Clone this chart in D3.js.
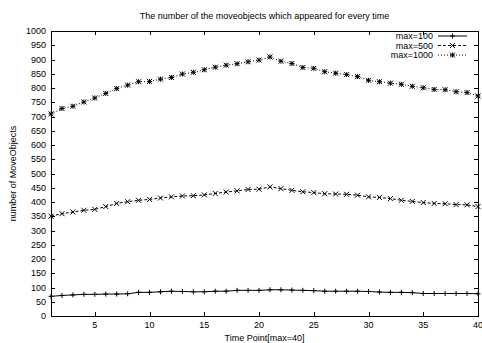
<!DOCTYPE html>
<html>
<head>
<meta charset="utf-8">
<script src="https://cdn.jsdelivr.net/npm/d3@7"></script>
<style>
  body { margin: 0; background: #fff; }
  text { font-family: "Liberation Sans", Arial, sans-serif; font-size: 9px; fill: #000; }
</style>
</head>
<body>
<div class="chart"></div>
<script>
// DATA ------------------------------
const timePoints = d3.range(1, 41);
const max100 = [69, 72, 74, 76, 76, 77, 77, 78, 83, 83, 85, 87, 86, 85, 85, 87, 87, 90, 90, 90,
                92, 92, 91, 90, 89, 87, 87, 87, 87, 86, 84, 83, 83, 82, 79, 79, 79, 79, 79, 78];
const max500 = [350, 359, 365, 371, 374, 384, 395, 401, 406, 409, 414, 418, 421, 422, 425, 430, 435, 439, 444, 445,
                453, 447, 441, 436, 433, 429, 428, 427, 424, 418, 416, 412, 406, 402, 398, 395, 394, 391, 390, 384];
const max1000 = [709, 728, 736, 751, 765, 781, 798, 810, 822, 823, 831, 837, 849, 855, 864, 873, 880, 885, 892, 898,
                 909, 894, 886, 872, 869, 857, 852, 847, 840, 827, 822, 817, 813, 806, 801, 795, 794, 787, 784, 772];
const seriesNames = ["max=100", "max=500", "max=1000"];
const xTicks = [5, 10, 15, 20, 25, 30, 35, 40];
const yTicks = d3.range(0, 1001, 50);

// CHART INIT ------------------------------
const margin = {top: 31, right: 4, bottom: 27, left: 51};
const width = 482 - margin.left - margin.right;
const height = 343 - margin.top - margin.bottom;

const root = d3.select(".chart").append("svg")
  .attr("width", 482)
  .attr("height", 343);

const svg = root.append("g")
  .attr("transform", "translate(" + margin.left + "," + margin.top + ")");

const xScale = d3.scaleLinear().domain([1, 40]).range([0, width]);
const yScale = d3.scaleLinear().domain([0, 1000]).range([height, 0]);

// axes with inward ticks, mirrored on top / right
svg.append("g")
  .attr("transform", `translate(0, ${height})`)
  .call(d3.axisTop(xScale).tickValues(xTicks).tickSize(4).tickFormat(""))
  .call(g => g.select(".domain").remove());
svg.append("g")
  .call(d3.axisBottom(xScale).tickValues(xTicks).tickSize(4).tickFormat(""))
  .call(g => g.select(".domain").remove());
svg.append("g")
  .call(d3.axisRight(yScale).tickValues(yTicks).tickSize(4).tickFormat(""))
  .call(g => g.select(".domain").remove());
svg.append("g")
  .attr("transform", `translate(${width}, 0)`)
  .call(d3.axisLeft(yScale).tickValues(yTicks).tickSize(4).tickFormat(""))
  .call(g => g.select(".domain").remove());

svg.selectAll(".tick line")
  .attr("stroke", "#000")
  .attr("shape-rendering", "crispEdges");

// tick labels
svg.selectAll(".xlab")
  .data(xTicks)
  .enter().append("text")
  .attr("x", d => xScale(d))
  .attr("y", height + 12)
  .attr("text-anchor", "middle")
  .text(d => d);

svg.selectAll(".ylab")
  .data(yTicks)
  .enter().append("text")
  .attr("x", -5)
  .attr("y", d => yScale(d) + 3)
  .attr("text-anchor", "end")
  .text(d => d);

// frame
svg.append("rect")
  .attr("width", width)
  .attr("height", height)
  .attr("fill", "none")
  .attr("stroke", "#000")
  .attr("stroke-width", 1)
  .attr("shape-rendering", "crispEdges");

// titles
root.append("text")
  .attr("x", margin.left + width / 2)
  .attr("y", 19)
  .attr("text-anchor", "middle")
  .text("The number of the moveobjects which appeared for every time");

root.append("text")
  .attr("x", margin.left + width / 2)
  .attr("y", 340.5)
  .attr("text-anchor", "middle")
  .text("Time Point[max=40]");

root.append("text")
  .attr("transform", "translate(16," + (margin.top + height / 2) + ") rotate(-90)")
  .attr("text-anchor", "middle")
  .text("number of MoveObjects");

// SERIES ---------------------------
const styles = [
  {data: max100, dash: null, marker: "plus"},
  {data: max500, dash: "3,2", marker: "cross"},
  {data: max1000, dash: "1,2", marker: "star"}
];

const line = d3.line()
  .x((d, i) => xScale(timePoints[i]))
  .y(d => yScale(d));

function marker(g, kind, x, y) {
  const s = 2.5;
  const p = g.append("path")
    .attr("stroke", "#000")
    .attr("stroke-width", 1)
    .attr("fill", "none");
  let d = "";
  if (kind === "plus" || kind === "star") {
    d += `M${x - s},${y}H${x + s}M${x},${y - s}V${y + s}`;
  }
  if (kind === "cross" || kind === "star") {
    d += `M${x - s},${y - s}L${x + s},${y + s}M${x - s},${y + s}L${x + s},${y - s}`;
  }
  p.attr("d", d);
}

styles.forEach(st => {
  svg.append("path")
    .datum(st.data)
    .attr("fill", "none")
    .attr("stroke", "#000")
    .attr("stroke-width", 1)
    .attr("stroke-dasharray", st.dash)
    .attr("d", line);
  const mg = svg.append("g");
  st.data.forEach((v, i) => marker(mg, st.marker, xScale(timePoints[i]), yScale(v)));
});

// legend
const legend = root.append("g");
seriesNames.forEach((name, i) => {
  const y = 36 + i * 9.5;
  legend.append("text")
    .attr("x", 433)
    .attr("y", y + 3)
    .attr("text-anchor", "end")
    .text(name);
  legend.append("line")
    .attr("x1", 438).attr("x2", 467)
    .attr("y1", y).attr("y2", y)
    .attr("stroke", "#000")
    .attr("stroke-dasharray", styles[i].dash);
  marker(legend, styles[i].marker, 452.5, y);
});
</script>
</body>
</html>
